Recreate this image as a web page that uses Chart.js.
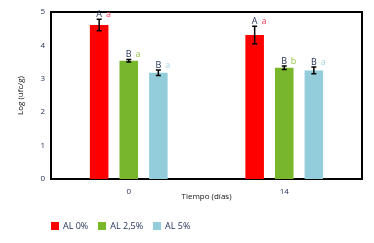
<!DOCTYPE html>
<html>
<head>
<meta charset="utf-8">
<script src="https://cdn.jsdelivr.net/npm/chart.js@4"></script>
<style>
  body { margin: 0; background: #fff; }
  #wrap { position: relative; width: 374px; height: 243px; }
  #legend { position: absolute; left: 51px; top: 219px; display: flex; font: 9px "Open Sans", sans-serif; color: #1f2d55; }
  #legend span.item { display: flex; align-items: center; margin-right: 10px; }
  #legend span.box { width: 8px; height: 8px; margin-right: 4px; display: inline-block; }
</style>
</head>
<body>
<div id="wrap">
  <canvas id="myCanvas" width="374" height="243"></canvas>
  <div id="legend"></div>
</div>
<script>
// data
const days = ["0", "14"];
const seriesNames = ["AL 0%", "AL 2,5%", "AL 5%"];
const colors = ["#ff0000", "#78b72c", "#93cddb"];
const letterColors = ["#ff3d5c", "#92c440", "#a3d6e3"];
const al0 = [4.61, 4.31];
const al25 = [3.54, 3.33];
const al5 = [3.18, 3.25];
const err0 = [0.17, 0.26];
const err25 = [0.035, 0.05];
const err5 = [0.08, 0.1];
const upperLetters = [["A", "A"], ["B", "B"], ["B", "B"]];
const lowerLetters = [["a", "a"], ["a", "b"], ["a", "a"]];

const values = [al0, al25, al5];
const errors = [err0, err25, err5];

const textFont = "'Open Sans', sans-serif";

// error bars + letters on top of each bar
const barExtras = {
  id: "barExtras",
  afterDatasetsDraw(chart) {
    const ctx = chart.ctx;
    const y = chart.scales.y;
    chart.data.datasets.forEach((ds, i) => {
      const meta = chart.getDatasetMeta(i);
      meta.data.forEach((bar, j) => {
        const v = ds.data[j];
        const e = errors[i][j];
        const top = y.getPixelForValue(v + e);
        const bottom = y.getPixelForValue(v - e);
        ctx.save();
        ctx.strokeStyle = "#000";
        ctx.lineWidth = 1.5;
        ctx.beginPath();
        ctx.moveTo(bar.x, top);
        ctx.lineTo(bar.x, bottom);
        ctx.moveTo(bar.x - 2.5, top);
        ctx.lineTo(bar.x + 2.5, top);
        ctx.moveTo(bar.x - 2.5, bottom);
        ctx.lineTo(bar.x + 2.5, bottom);
        ctx.stroke();

        ctx.font = "9px " + textFont;
        ctx.textBaseline = "alphabetic";
        ctx.textAlign = "center";
        ctx.fillStyle = "#1f2d55";
        ctx.fillText(upperLetters[i][j], bar.x, top - 2.5);
        ctx.fillStyle = letterColors[i];
        ctx.fillText(lowerLetters[i][j], bar.x + 9.3, top - 2.5);
        ctx.restore();
      });
    });
  },
};

const line = document.getElementById("myCanvas");
new Chart(line, {
  type: "bar",
  data: {
    labels: days,
    datasets: seriesNames.map((name, i) => ({
      label: name,
      data: values[i],
      backgroundColor: colors[i],
      borderWidth: 0,
      categoryPercentage: 0.571,
      barPercentage: 0.627,
    })),
  },
  options: {
    responsive: false,
    animation: false,
    layout: {
      padding: { left: 0, right: 12, top: 12, bottom: 37 },
    },
    plugins: {
      legend: { display: false },
      tooltip: { enabled: false },
    },
    scales: {
      x: {
        grid: { display: false, drawTicks: false },
        border: { color: "#000", width: 2 },
        ticks: { color: "#1f2d55", padding: 8, font: { size: 8, family: textFont } },
        title: {
          display: true,
          text: "Tiempo (días)",
          color: "#111",
          font: { size: 8, family: textFont },
          padding: { top: 0, bottom: 4 },
        },
        afterFit: (scale) => {
          scale.height = 27;
        },
      },
      xTop: {
        type: "category",
        position: "top",
        labels: days,
        grid: { display: false, drawTicks: false },
        border: { color: "#000", width: 2 },
        ticks: { display: false },
        afterFit: (scale) => {
          scale.height = 0;
        },
      },
      y: {
        min: 0,
        max: 5,
        grid: { display: false, drawTicks: false },
        border: { color: "#000", width: 2 },
        ticks: { stepSize: 1, color: "#1f2d55", padding: 6, font: { size: 8, family: textFont } },
        title: {
          display: true,
          text: "Log (ufc/g)",
          color: "#111",
          font: { size: 8, family: textFont },
          padding: { top: 16, bottom: 0 },
        },
        afterFit: (scale) => {
          scale.width = 51;
        },
      },
      yRight: {
        type: "linear",
        position: "right",
        min: 0,
        max: 5,
        grid: { display: false, drawTicks: false },
        border: { color: "#000", width: 2 },
        ticks: { display: false },
        afterFit: (scale) => {
          scale.width = 0;
        },
      },
    },
  },
  plugins: [barExtras],
});

// legend
const legend = document.getElementById("legend");
seriesNames.forEach((name, i) => {
  const item = document.createElement("span");
  item.className = "item";
  const box = document.createElement("span");
  box.className = "box";
  box.style.background = colors[i];
  item.appendChild(box);
  item.appendChild(document.createTextNode(name));
  legend.appendChild(item);
});
</script>
</body>
</html>
